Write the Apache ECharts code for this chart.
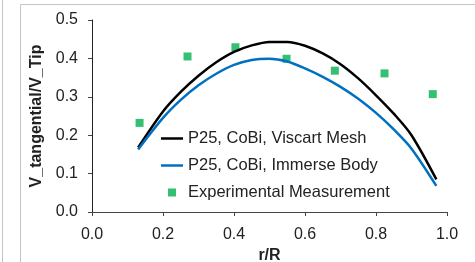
<!DOCTYPE html>
<html>
<head>
<meta charset="utf-8">
<script src="https://cdn.jsdelivr.net/npm/echarts@6/dist/echarts.min.js"></script>
<style>
  html, body { margin: 0; padding: 0; background: #fff; }
  #chart { width: 475px; height: 262px; }
</style>
</head>
<body>
<div id="chart"></div>
<script>
// values
const xTicks = [0.0, 0.2, 0.4, 0.6, 0.8, 1.0]
const curveR = [0.13, 0.2, 0.25, 0.3, 0.35, 0.4, 0.45, 0.5, 0.55, 0.6, 0.65, 0.7, 0.75, 0.8, 0.85, 0.9, 0.97]
const viscartMesh = [0.168, 0.262, 0.313, 0.355, 0.39, 0.417, 0.434, 0.443, 0.443, 0.433, 0.413, 0.385, 0.348, 0.304, 0.256, 0.2, 0.085]
const immerseBody = [0.163, 0.245, 0.292, 0.33, 0.36, 0.383, 0.396, 0.399, 0.392, 0.374, 0.352, 0.326, 0.295, 0.258, 0.215, 0.165, 0.068]
const expR = [0.134, 0.269, 0.404, 0.548, 0.684, 0.824, 0.96]
const expV = [0.232, 0.405, 0.429, 0.399, 0.368, 0.361, 0.307]

const names = ['P25, CoBi, Viscart Mesh', 'P25, CoBi, Immerse Body', 'Experimental Measurement']

function pairs(xs, ys) {
  return xs.map((x, i) => [x, ys[i]])
}

const chart = echarts.init(document.getElementById('chart'))
const font = 'Liberation Sans, Arial, sans-serif'
const lineIcon = 'path://M0,0 H22 V2.5 H0 Z'
const squareIcon = 'path://M0,0 H8 V8 H0 Z'

chart.setOption({
  animation: false,
  textStyle: { fontFamily: font },
  graphic: [
    // frame of the chart area
    { type: 'rect', shape: { x: 20.5, y: 4.5, width: 520, height: 300 }, style: { fill: null, stroke: '#c4c4c4', lineWidth: 1 } },
    { type: 'line', shape: { x1: 2.5, y1: 0, x2: 2.5, y2: 262 }, style: { stroke: '#c4c4c4', lineWidth: 1 } }
  ],
  grid: { left: 92, right: 28, top: 20, bottom: 50, outerBoundsMode: 'none' },
  legend: {
    orient: 'vertical',
    left: 161,
    top: 130,
    padding: 0,
    itemWidth: 22,
    itemHeight: 8,
    itemGap: 10,
    textStyle: { fontSize: 16.5, color: '#222', fontFamily: font },
    data: [
      { name: names[0], icon: lineIcon },
      { name: names[1], icon: lineIcon },
      { name: names[2], icon: squareIcon }
    ]
  },
  xAxis: {
    type: 'value',
    min: 0,
    max: 1,
    interval: 0.2,
    name: 'r/R',
    nameLocation: 'middle',
    nameGap: 33,
    nameTextStyle: { fontSize: 16, fontWeight: 'bold', color: '#222' },
    axisLine: { lineStyle: { color: '#444', width: 1 } },
    axisTick: { show: true, length: 4, lineStyle: { color: '#444' } },
    splitLine: { show: false },
    axisLabel: {
      fontSize: 16,
      color: '#222',
      margin: 15,
      formatter: v => xTicks.includes(+v.toFixed(1)) ? v.toFixed(1) : ''
    }
  },
  yAxis: {
    type: 'value',
    min: 0,
    max: 0.5,
    interval: 0.1,
    name: 'V_tangential/V_Tip',
    nameLocation: 'middle',
    nameGap: 47,
    nameTextStyle: { fontSize: 16, fontWeight: 'bold', color: '#222' },
    axisLine: { show: true, lineStyle: { color: '#222', width: 1 } },
    axisTick: { show: true, length: 4, lineStyle: { color: '#444' } },
    splitLine: { show: false },
    axisLabel: { fontSize: 16, color: '#222', margin: 14, formatter: v => v.toFixed(1) }
  },
  series: [
    {
      name: names[0],
      type: 'line',
      smooth: 0.3,
      symbol: 'none',
      data: pairs(curveR, viscartMesh),
      lineStyle: { color: '#000', width: 2.5 },
      itemStyle: { color: '#000' }
    },
    {
      name: names[1],
      type: 'line',
      smooth: 0.3,
      symbol: 'none',
      data: pairs(curveR, immerseBody),
      lineStyle: { color: '#0070C0', width: 2.5 },
      itemStyle: { color: '#0070C0' }
    },
    {
      name: names[2],
      type: 'scatter',
      symbol: 'rect',
      symbolSize: 8,
      data: pairs(expR, expV),
      itemStyle: { color: '#00B050' }
    }
  ]
})
</script>
</body>
</html>
